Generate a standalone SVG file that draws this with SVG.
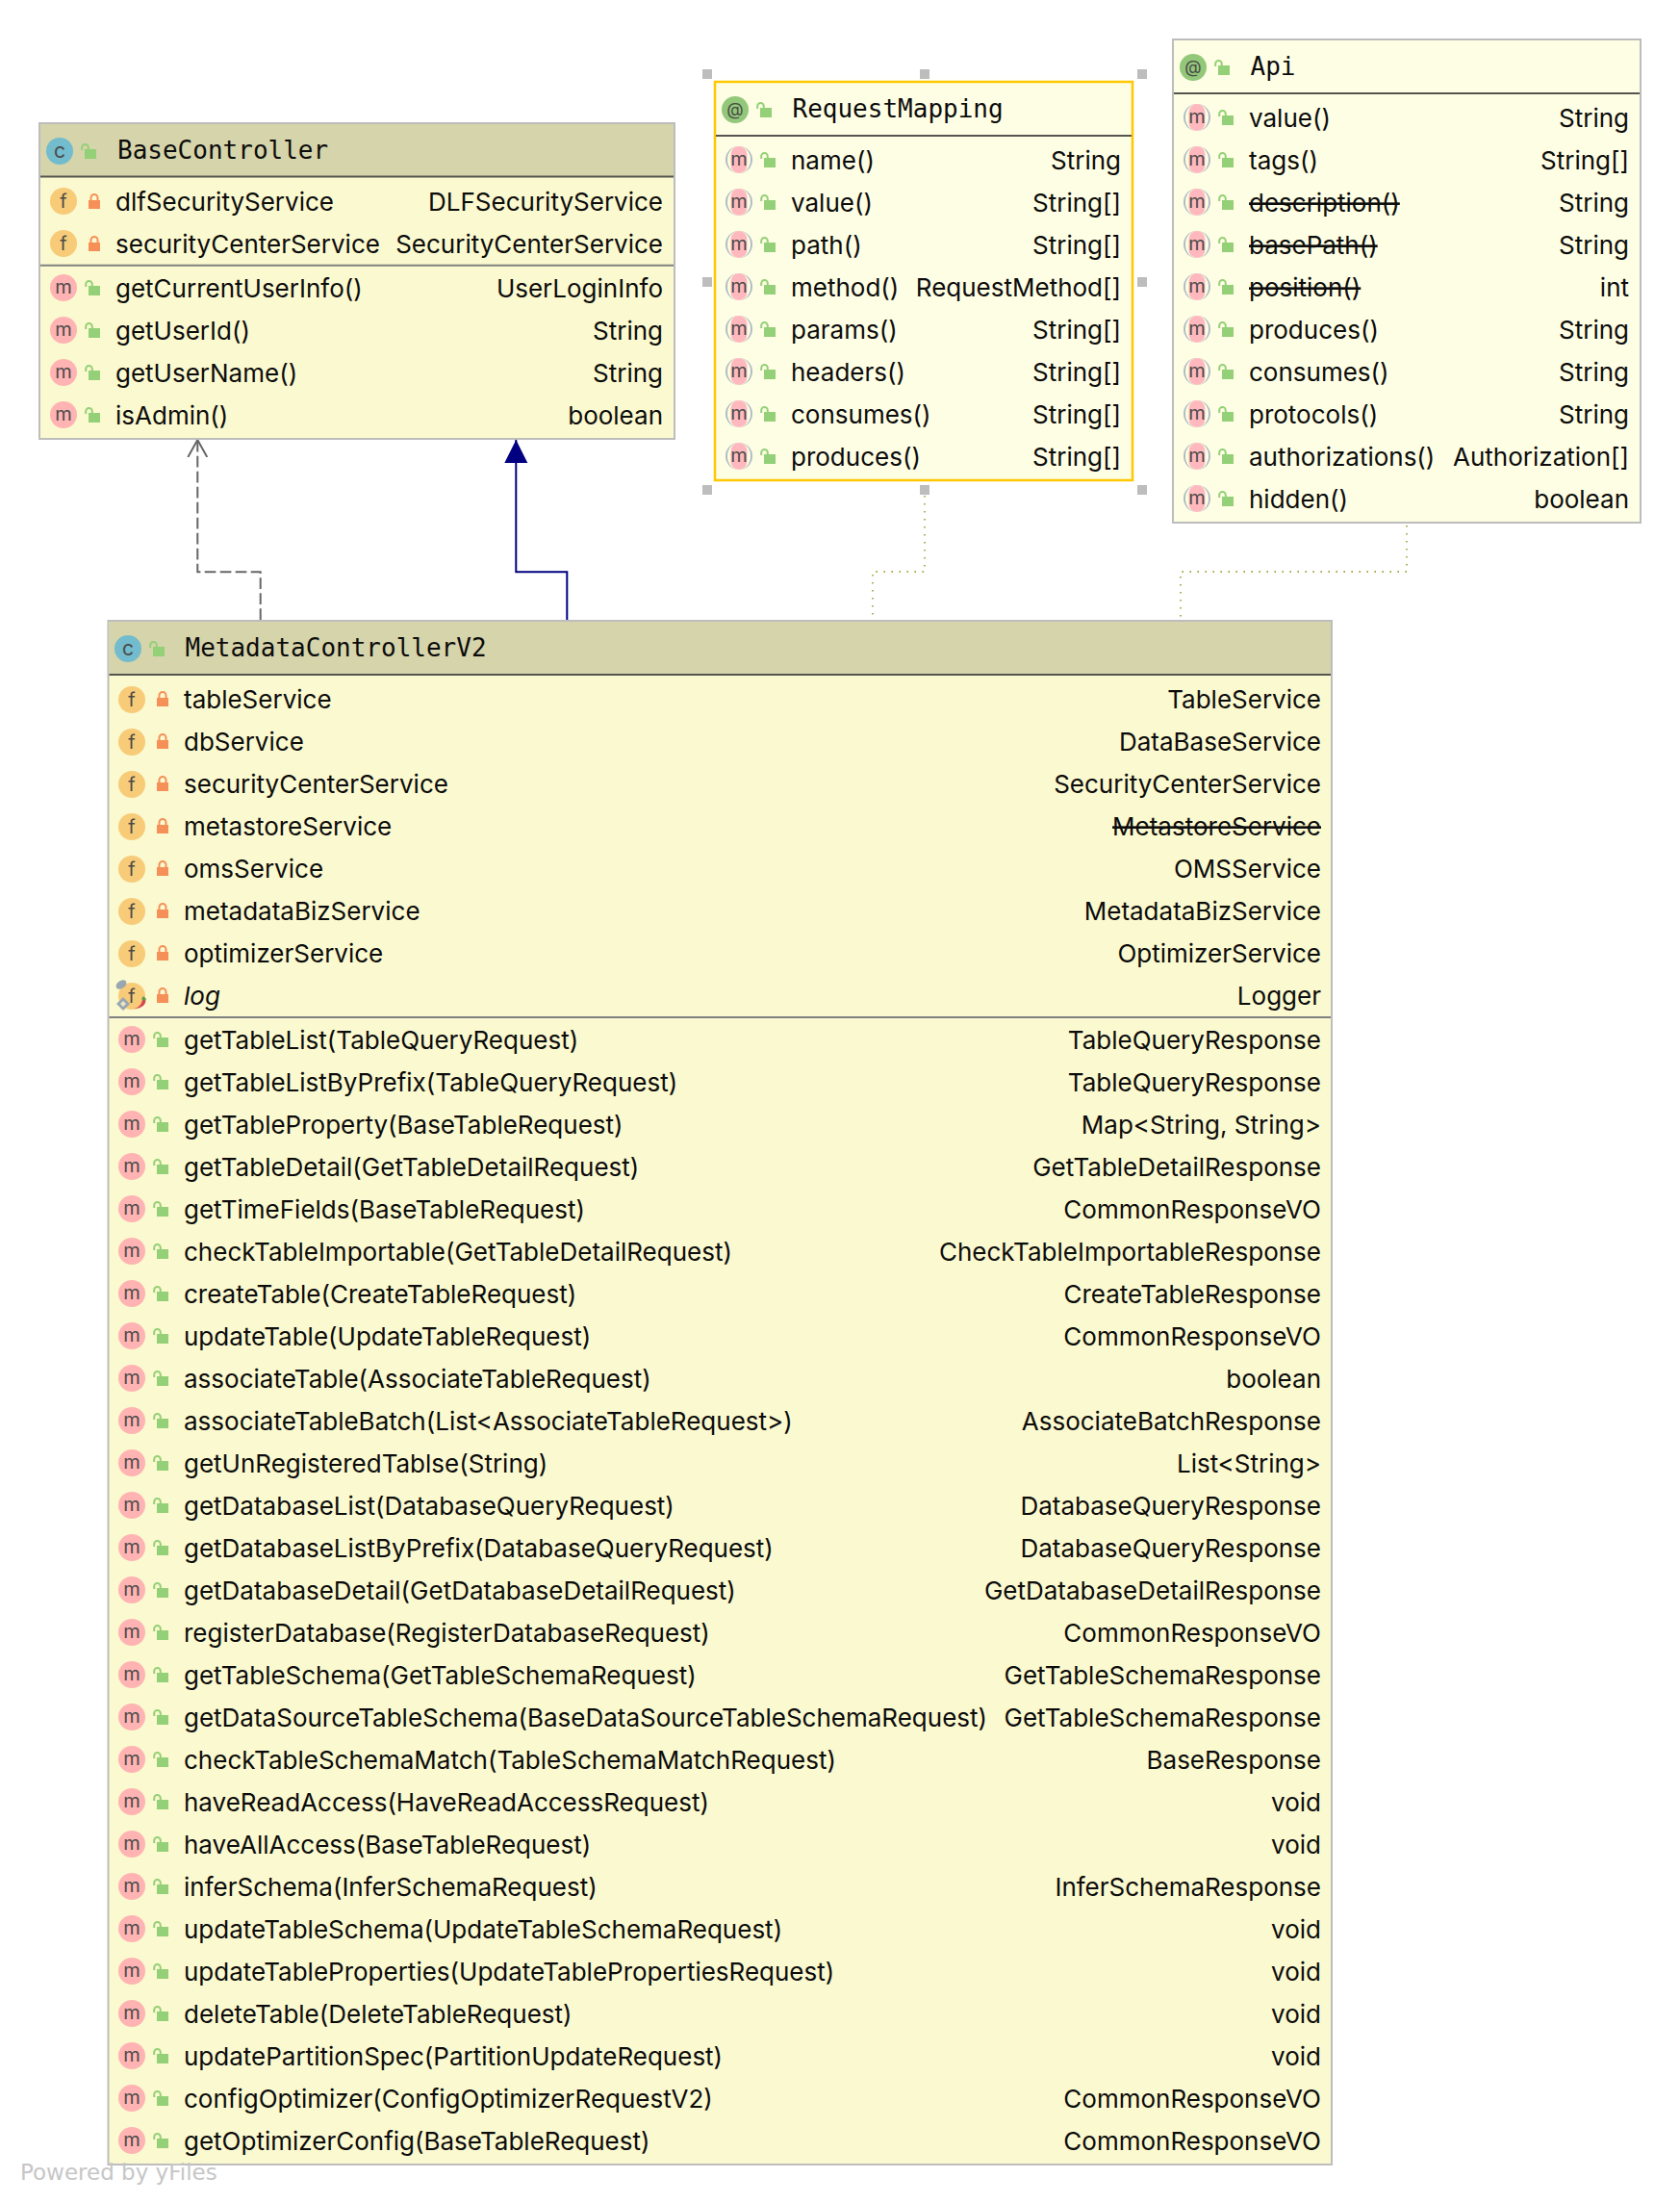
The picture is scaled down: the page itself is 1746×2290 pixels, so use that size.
<svg xmlns="http://www.w3.org/2000/svg" width="1746" height="2290" viewBox="0 0 1746 2290">
<style>
text{font-family:"Inter","Noto Sans","Liberation Sans",sans-serif;font-size:26px;fill:#0c0c0c}
.r{text-anchor:end}
.h{font-family:"DejaVu Sans Mono","Liberation Mono",monospace;font-size:26px}
.s{text-decoration:line-through}
.i{font-style:italic}
.g{font-size:20px;text-anchor:middle;fill:#4a4a48}
.b{fill:#fbf9cf;stroke:#bdbdbd;stroke-width:2}
.a{fill:#fefee4;stroke:#bdbdbd;stroke-width:2}
.sel{stroke:#ffc800;stroke-width:2.5}
.hd{fill:#d6d4aa}
.l1{stroke:#555550;stroke-width:2}
.l2{stroke:#808080;stroke-width:2}
.hnd{fill:#bdbdbd}
.yf{font-family:"DejaVu Sans",sans-serif;font-size:23px;fill:#c6c6c6}
.dot{fill:none;stroke:#8f8f10;stroke-width:1.4;stroke-dasharray:1.6 6.4}
</style>
<defs>
<g id="cm"><circle r="14" fill="#ffb3b3"/><text class="g" y="6">m</text></g>
<g id="cf"><circle r="14" fill="#f7cb78"/><text class="g" y="7">f</text></g>
<g id="cc"><circle r="14" fill="#72bccd"/><text class="g" y="6.500" style="font-size:21px">c</text></g>
<g id="ca"><circle r="14" fill="#93c87a"/><text class="g" y="6" style="font-size:18px">@</text></g>
<g id="cam"><circle r="14" fill="#b0bcc2"/><ellipse rx="12" ry="14" fill="#fefee4"/><rect x="-8.500" y="-14" width="17" height="28" rx="8.500" fill="#ffb8bd"/><text class="g" y="6">m</text></g>
<g id="lo"><path d="M1.200 -1V-3.700a3.300 3.300 0 0 1 6.600 0V-2" fill="none" stroke="#94d077" stroke-width="2"/><rect x="4" y="-2" width="12" height="10" fill="#94d077"/></g>
<g id="lp"><path d="M2.500 0V-3.500a3.500 3.500 0 0 1 7 0V0" fill="none" stroke="#f69059" stroke-width="2"/><rect x="0" y="-1" width="12" height="9" fill="#f69059"/></g>
<marker id="tri" markerUnits="userSpaceOnUse" markerWidth="26" markerHeight="26" refX="24" refY="12" orient="auto"><path d="M0 0L24 12L0 24z" fill="#000080"/></marker>
<marker id="open" markerUnits="userSpaceOnUse" markerWidth="24" markerHeight="24" refX="18" refY="11" orient="auto"><path d="M0 1L18 11L0 21" fill="none" stroke="#666" stroke-width="2"/></marker>
</defs>
<rect width="1746" height="2290" fill="#fff"/>
<g id="connectors">
<path id="e1" d="M270.700 644V594.300H205.300V457" fill="none" stroke="#666" stroke-width="2" stroke-dasharray="11.700 4.300" marker-end="url(#open)"/>
<path id="e2" d="M589.300 644V594.300H536.300V457" fill="none" stroke="#000080" stroke-width="2" marker-end="url(#tri)"/>
<path id="e3" class="dot" d="M961 507V594H907V644"/>
<path id="e4" class="dot" d="M1462 546V594H1227V644"/>
</g>
<g id="BaseController">
<rect class="b" x="41" y="128" width="660" height="328"/>
<rect class="hd" x="42" y="129" width="658" height="54"/>
<path class="l1" d="M42 183.500H700"/><path class="l2" d="M42 275.700H700"/>
<use href="#cc" x="62" y="157"/><use href="#lo" x="84" y="157"/><text class="h" x="122" y="165">BaseController</text>
<use href="#cf" x="66" y="209"/><use href="#lp" x="92" y="209"/><text x="120" y="219">dlfSecurityService</text><text class="r" x="689" y="219">DLFSecurityService</text>
<use href="#cf" x="66" y="253"/><use href="#lp" x="92" y="253"/><text x="120" y="263">securityCenterService</text><text class="r" x="689" y="263">SecurityCenterService</text>
<use href="#cm" x="66" y="299"/><use href="#lo" x="88" y="299"/><text x="120" y="309">getCurrentUserInfo()</text><text class="r" x="689" y="309">UserLoginInfo</text>
<use href="#cm" x="66" y="343"/><use href="#lo" x="88" y="343"/><text x="120" y="353">getUserId()</text><text class="r" x="689" y="353">String</text>
<use href="#cm" x="66" y="387"/><use href="#lo" x="88" y="387"/><text x="120" y="397">getUserName()</text><text class="r" x="689" y="397">String</text>
<use href="#cm" x="66" y="431"/><use href="#lo" x="88" y="431"/><text x="120" y="441">isAdmin()</text><text class="r" x="689" y="441">boolean</text>
</g>
<g id="RequestMapping">
<rect class="a sel" x="743" y="85" width="434" height="414"/>
<path class="l1" d="M744 141H1176"/>
<use href="#ca" x="764" y="114"/><use href="#lo" x="786" y="114"/><text class="h" x="823.500" y="122">RequestMapping</text>
<use href="#cam" x="768" y="166"/><use href="#lo" x="790" y="166"/><text x="822" y="176">name()</text><text class="r" x="1165" y="176">String</text>
<use href="#cam" x="768" y="210"/><use href="#lo" x="790" y="210"/><text x="822" y="220">value()</text><text class="r" x="1165" y="220">String[]</text>
<use href="#cam" x="768" y="254"/><use href="#lo" x="790" y="254"/><text x="822" y="264">path()</text><text class="r" x="1165" y="264">String[]</text>
<use href="#cam" x="768" y="298"/><use href="#lo" x="790" y="298"/><text x="822" y="308">method()</text><text class="r" x="1165" y="308">RequestMethod[]</text>
<use href="#cam" x="768" y="342"/><use href="#lo" x="790" y="342"/><text x="822" y="352">params()</text><text class="r" x="1165" y="352">String[]</text>
<use href="#cam" x="768" y="386"/><use href="#lo" x="790" y="386"/><text x="822" y="396">headers()</text><text class="r" x="1165" y="396">String[]</text>
<use href="#cam" x="768" y="430"/><use href="#lo" x="790" y="430"/><text x="822" y="440">consumes()</text><text class="r" x="1165" y="440">String[]</text>
<use href="#cam" x="768" y="474"/><use href="#lo" x="790" y="474"/><text x="822" y="484">produces()</text><text class="r" x="1165" y="484">String[]</text>
<rect class="hnd" x="730" y="72" width="10" height="10"/><rect class="hnd" x="956" y="72" width="10" height="10"/><rect class="hnd" x="1182" y="72" width="10" height="10"/>
<rect class="hnd" x="730" y="288" width="10" height="10"/><rect class="hnd" x="1182" y="288" width="10" height="10"/>
<rect class="hnd" x="730" y="504" width="10" height="10"/><rect class="hnd" x="956" y="504" width="10" height="10"/><rect class="hnd" x="1182" y="504" width="10" height="10"/>
</g>
<g id="Api">
<rect class="a" x="1219" y="41" width="486" height="502"/>
<path class="l1" d="M1220 97H1704"/>
<use href="#ca" x="1240" y="70"/><use href="#lo" x="1262" y="70"/><text class="h" x="1299.500" y="78">Api</text>
<use href="#cam" x="1244" y="122"/><use href="#lo" x="1266" y="122"/><text x="1298" y="132">value()</text><text class="r" x="1693" y="132">String</text>
<use href="#cam" x="1244" y="166"/><use href="#lo" x="1266" y="166"/><text x="1298" y="176">tags()</text><text class="r" x="1693" y="176">String[]</text>
<use href="#cam" x="1244" y="210"/><use href="#lo" x="1266" y="210"/><text class="s" x="1298" y="220">description()</text><text class="r" x="1693" y="220">String</text>
<use href="#cam" x="1244" y="254"/><use href="#lo" x="1266" y="254"/><text class="s" x="1298" y="264">basePath()</text><text class="r" x="1693" y="264">String</text>
<use href="#cam" x="1244" y="298"/><use href="#lo" x="1266" y="298"/><text class="s" x="1298" y="308">position()</text><text class="r" x="1693" y="308">int</text>
<use href="#cam" x="1244" y="342"/><use href="#lo" x="1266" y="342"/><text x="1298" y="352">produces()</text><text class="r" x="1693" y="352">String</text>
<use href="#cam" x="1244" y="386"/><use href="#lo" x="1266" y="386"/><text x="1298" y="396">consumes()</text><text class="r" x="1693" y="396">String</text>
<use href="#cam" x="1244" y="430"/><use href="#lo" x="1266" y="430"/><text x="1298" y="440">protocols()</text><text class="r" x="1693" y="440">String</text>
<use href="#cam" x="1244" y="474"/><use href="#lo" x="1266" y="474"/><text x="1298" y="484">authorizations()</text><text class="r" x="1693" y="484">Authorization[]</text>
<use href="#cam" x="1244" y="518"/><use href="#lo" x="1266" y="518"/><text x="1298" y="528">hidden()</text><text class="r" x="1693" y="528">boolean</text>
</g>
<g id="MetadataControllerV2">
<rect class="b" x="112.500" y="645" width="1271.500" height="1604"/>
<rect class="hd" x="113.500" y="646" width="1269.500" height="55"/>
<path class="l1" d="M113.500 701H1383"/><path class="l2" d="M113.500 1057H1383"/>
<use href="#cc" x="133" y="674"/><use href="#lo" x="155" y="674"/><text class="h" x="192.500" y="682">MetadataControllerV2</text>
<use href="#cf" x="137" y="727"/><use href="#lp" x="163" y="726"/><text x="191" y="736">tableService</text><text class="r" x="1373" y="736">TableService</text>
<use href="#cf" x="137" y="771"/><use href="#lp" x="163" y="770"/><text x="191" y="780">dbService</text><text class="r" x="1373" y="780">DataBaseService</text>
<use href="#cf" x="137" y="815"/><use href="#lp" x="163" y="814"/><text x="191" y="824">securityCenterService</text><text class="r" x="1373" y="824">SecurityCenterService</text>
<use href="#cf" x="137" y="859"/><use href="#lp" x="163" y="858"/><text x="191" y="868">metastoreService</text><text class="r s" x="1373" y="868">MetastoreService</text>
<use href="#cf" x="137" y="903"/><use href="#lp" x="163" y="902"/><text x="191" y="912">omsService</text><text class="r" x="1373" y="912">OMSService</text>
<use href="#cf" x="137" y="947"/><use href="#lp" x="163" y="946"/><text x="191" y="956">metadataBizService</text><text class="r" x="1373" y="956">MetadataBizService</text>
<use href="#cf" x="137" y="991"/><use href="#lp" x="163" y="990"/><text x="191" y="1000">optimizerService</text><text class="r" x="1373" y="1000">OptimizerService</text>
<use href="#cf" x="137" y="1035"/><use href="#lp" x="163" y="1034"/><text class="i" x="191" y="1044">log</text><text class="r" x="1373" y="1044">Logger</text>
<g id="log-marks"><ellipse cx="126" cy="1023" rx="6" ry="4" transform="rotate(-35 126 1023)" fill="#9aa7b0"/><path d="M128 1036l7 7-7 7-7-7z" fill="#9aa7b0"/><path d="M128 1040l3 3-3 3-3-3z" fill="#e8e6c4"/><path d="M151 1037c2 6-3 11-12 11 5-1 8-4 9-9z" fill="#d9434e"/><path d="M149 1035l3 3-2 2-3-2z" fill="#5a9a4a"/></g>
<use href="#cm" x="137" y="1080"/><use href="#lo" x="159" y="1080"/><text x="191" y="1090">getTableList(TableQueryRequest)</text><text class="r" x="1373" y="1090">TableQueryResponse</text>
<use href="#cm" x="137" y="1124"/><use href="#lo" x="159" y="1124"/><text x="191" y="1134">getTableListByPrefix(TableQueryRequest)</text><text class="r" x="1373" y="1134">TableQueryResponse</text>
<use href="#cm" x="137" y="1168"/><use href="#lo" x="159" y="1168"/><text x="191" y="1178">getTableProperty(BaseTableRequest)</text><text class="r" x="1373" y="1178">Map&lt;String, String&gt;</text>
<use href="#cm" x="137" y="1212"/><use href="#lo" x="159" y="1212"/><text x="191" y="1222">getTableDetail(GetTableDetailRequest)</text><text class="r" x="1373" y="1222">GetTableDetailResponse</text>
<use href="#cm" x="137" y="1256"/><use href="#lo" x="159" y="1256"/><text x="191" y="1266">getTimeFields(BaseTableRequest)</text><text class="r" x="1373" y="1266">CommonResponseVO</text>
<use href="#cm" x="137" y="1300"/><use href="#lo" x="159" y="1300"/><text x="191" y="1310">checkTableImportable(GetTableDetailRequest)</text><text class="r" x="1373" y="1310">CheckTableImportableResponse</text>
<use href="#cm" x="137" y="1344"/><use href="#lo" x="159" y="1344"/><text x="191" y="1354">createTable(CreateTableRequest)</text><text class="r" x="1373" y="1354">CreateTableResponse</text>
<use href="#cm" x="137" y="1388"/><use href="#lo" x="159" y="1388"/><text x="191" y="1398">updateTable(UpdateTableRequest)</text><text class="r" x="1373" y="1398">CommonResponseVO</text>
<use href="#cm" x="137" y="1432"/><use href="#lo" x="159" y="1432"/><text x="191" y="1442">associateTable(AssociateTableRequest)</text><text class="r" x="1373" y="1442">boolean</text>
<use href="#cm" x="137" y="1476"/><use href="#lo" x="159" y="1476"/><text x="191" y="1486">associateTableBatch(List&lt;AssociateTableRequest&gt;)</text><text class="r" x="1373" y="1486">AssociateBatchResponse</text>
<use href="#cm" x="137" y="1520"/><use href="#lo" x="159" y="1520"/><text x="191" y="1530">getUnRegisteredTablse(String)</text><text class="r" x="1373" y="1530">List&lt;String&gt;</text>
<use href="#cm" x="137" y="1564"/><use href="#lo" x="159" y="1564"/><text x="191" y="1574">getDatabaseList(DatabaseQueryRequest)</text><text class="r" x="1373" y="1574">DatabaseQueryResponse</text>
<use href="#cm" x="137" y="1608"/><use href="#lo" x="159" y="1608"/><text x="191" y="1618">getDatabaseListByPrefix(DatabaseQueryRequest)</text><text class="r" x="1373" y="1618">DatabaseQueryResponse</text>
<use href="#cm" x="137" y="1652"/><use href="#lo" x="159" y="1652"/><text x="191" y="1662">getDatabaseDetail(GetDatabaseDetailRequest)</text><text class="r" x="1373" y="1662">GetDatabaseDetailResponse</text>
<use href="#cm" x="137" y="1696"/><use href="#lo" x="159" y="1696"/><text x="191" y="1706">registerDatabase(RegisterDatabaseRequest)</text><text class="r" x="1373" y="1706">CommonResponseVO</text>
<use href="#cm" x="137" y="1740"/><use href="#lo" x="159" y="1740"/><text x="191" y="1750">getTableSchema(GetTableSchemaRequest)</text><text class="r" x="1373" y="1750">GetTableSchemaResponse</text>
<use href="#cm" x="137" y="1784"/><use href="#lo" x="159" y="1784"/><text x="191" y="1794">getDataSourceTableSchema(BaseDataSourceTableSchemaRequest)</text><text class="r" x="1373" y="1794">GetTableSchemaResponse</text>
<use href="#cm" x="137" y="1828"/><use href="#lo" x="159" y="1828"/><text x="191" y="1838">checkTableSchemaMatch(TableSchemaMatchRequest)</text><text class="r" x="1373" y="1838">BaseResponse</text>
<use href="#cm" x="137" y="1872"/><use href="#lo" x="159" y="1872"/><text x="191" y="1882">haveReadAccess(HaveReadAccessRequest)</text><text class="r" x="1373" y="1882">void</text>
<use href="#cm" x="137" y="1916"/><use href="#lo" x="159" y="1916"/><text x="191" y="1926">haveAllAccess(BaseTableRequest)</text><text class="r" x="1373" y="1926">void</text>
<use href="#cm" x="137" y="1960"/><use href="#lo" x="159" y="1960"/><text x="191" y="1970">inferSchema(InferSchemaRequest)</text><text class="r" x="1373" y="1970">InferSchemaResponse</text>
<use href="#cm" x="137" y="2004"/><use href="#lo" x="159" y="2004"/><text x="191" y="2014">updateTableSchema(UpdateTableSchemaRequest)</text><text class="r" x="1373" y="2014">void</text>
<use href="#cm" x="137" y="2048"/><use href="#lo" x="159" y="2048"/><text x="191" y="2058">updateTableProperties(UpdateTablePropertiesRequest)</text><text class="r" x="1373" y="2058">void</text>
<use href="#cm" x="137" y="2092"/><use href="#lo" x="159" y="2092"/><text x="191" y="2102">deleteTable(DeleteTableRequest)</text><text class="r" x="1373" y="2102">void</text>
<use href="#cm" x="137" y="2136"/><use href="#lo" x="159" y="2136"/><text x="191" y="2146">updatePartitionSpec(PartitionUpdateRequest)</text><text class="r" x="1373" y="2146">void</text>
<use href="#cm" x="137" y="2180"/><use href="#lo" x="159" y="2180"/><text x="191" y="2190">configOptimizer(ConfigOptimizerRequestV2)</text><text class="r" x="1373" y="2190">CommonResponseVO</text>
<use href="#cm" x="137" y="2224"/><use href="#lo" x="159" y="2224"/><text x="191" y="2234">getOptimizerConfig(BaseTableRequest)</text><text class="r" x="1373" y="2234">CommonResponseVO</text>
</g>
<text class="yf" x="21" y="2265">Powered by yFiles</text>
</svg>
